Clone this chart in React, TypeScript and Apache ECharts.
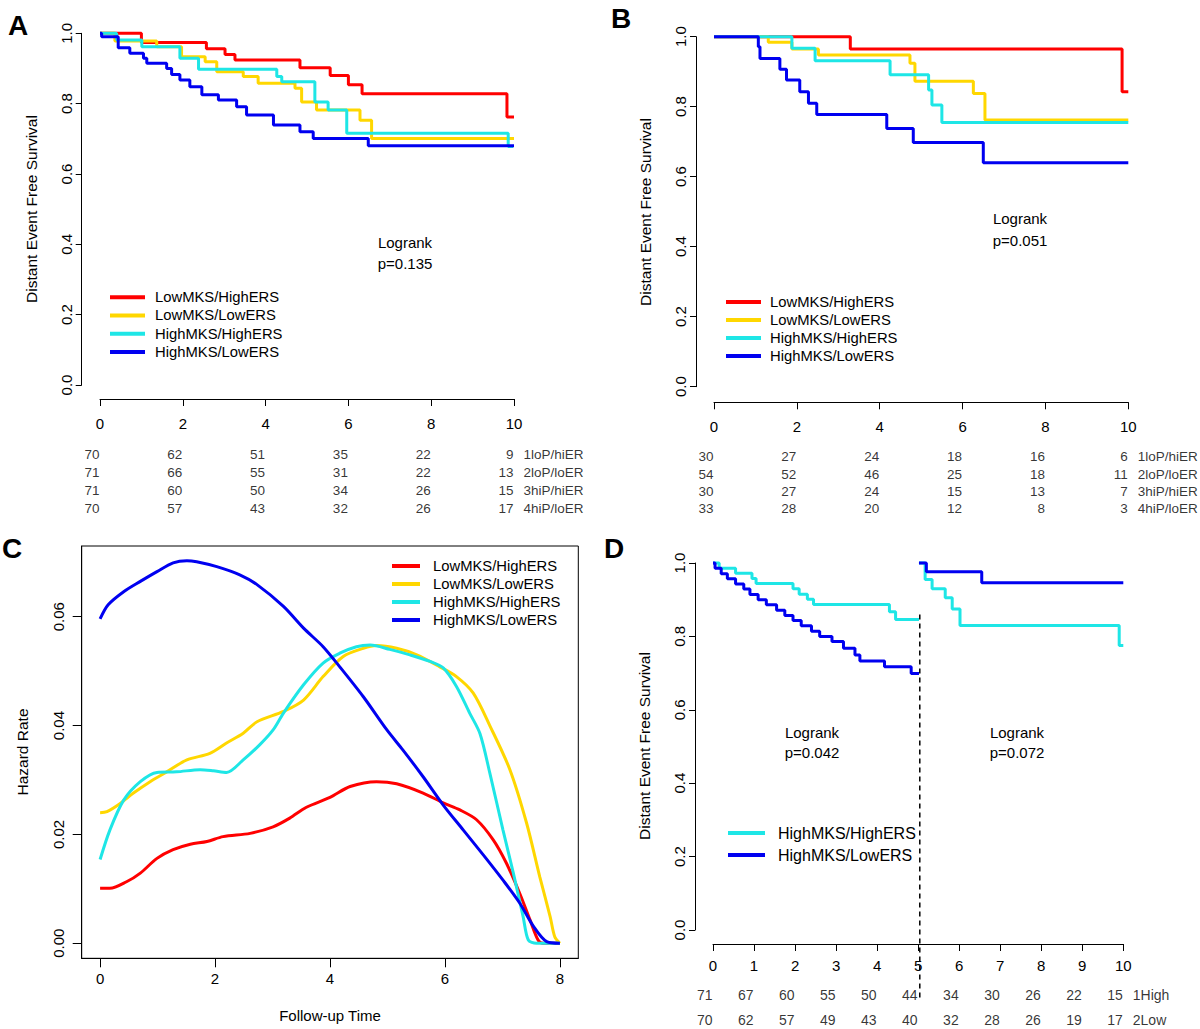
import React, { useEffect, useRef } from "react";
import * as echarts from "echarts";

const FONT = "'Liberation Sans', Arial, Helvetica, sans-serif";

const NAMES = ["LowMKS/HighERS", "LowMKS/LowERS", "HighMKS/HighERS", "HighMKS/LowERS"];
const COLORS = ["#FF0000", "#FFD700", "#1EE6E6", "#0000F0"];

// ---------- Panel A (Kaplan-Meier) ----------
const aRedT = [0, 1.0, 2.57, 3.02, 3.26, 4.83, 5.56, 6.0, 6.33, 9.83, 10.0];
const aRedS = [1, 0.974, 0.956, 0.94, 0.924, 0.902, 0.88, 0.854, 0.828, 0.762, 0.762];
const aGoldT = [0, 0.36, 1.37, 1.97, 2.54, 2.82, 3.46, 3.82, 4.71, 4.87, 5.23, 6.28, 6.56, 10.0];
const aGoldS = [1, 0.978, 0.962, 0.933, 0.919, 0.891, 0.877, 0.858, 0.844, 0.805, 0.782, 0.753, 0.701, 0.701];
const aCyanT = [0, 0.4, 1.01, 1.93, 2.38, 4.27, 4.39, 5.19, 5.51, 5.96, 9.86, 9.98];
const aCyanS = [1, 0.981, 0.962, 0.929, 0.898, 0.877, 0.862, 0.805, 0.782, 0.716, 0.678, 0.678];
const aBlueT = [0, 0.04, 0.44, 0.72, 1.05, 1.13, 1.61, 1.73, 1.93, 2.17, 2.46, 2.86, 3.3, 3.54, 4.19, 4.83, 5.15, 6.48, 10.0];
const aBlueS = [1, 0.99, 0.959, 0.943, 0.929, 0.915, 0.9, 0.883, 0.867, 0.848, 0.825, 0.81, 0.791, 0.768, 0.739, 0.72, 0.701, 0.68, 0.68];
const aTimes = [0, 2, 4, 6, 8, 10];
const aRisk = [
  [70, 62, 51, 35, 22, 9],
  [71, 66, 55, 31, 22, 13],
  [71, 60, 50, 34, 26, 15],
  [70, 57, 43, 32, 26, 17],
];
const abStrata = ["1loP/hiER", "2loP/loER", "3hiP/hiER", "4hiP/loER"];

// ---------- Panel B (Kaplan-Meier) ----------
const bRedT = [0, 3.29, 9.85, 10.0];
const bRedS = [1, 0.965, 0.843, 0.843];
const bGoldT = [0, 1.31, 1.88, 2.52, 4.73, 4.85, 6.26, 6.54, 10.0];
const bGoldS = [1, 0.984, 0.965, 0.948, 0.924, 0.873, 0.838, 0.762, 0.762];
const bCyanT = [0, 1.88, 2.44, 4.25, 5.18, 5.26, 5.5, 10.0];
const bCyanS = [1, 0.967, 0.931, 0.891, 0.848, 0.805, 0.755, 0.755];
const bBlueT = [0, 1.07, 1.11, 1.59, 1.75, 2.07, 2.28, 2.48, 4.17, 4.81, 6.5, 10.0];
const bBlueS = [1, 0.971, 0.938, 0.907, 0.876, 0.843, 0.81, 0.778, 0.738, 0.698, 0.64, 0.64];
const bTimes = [0, 2, 4, 6, 8, 10];
const bRisk = [
  [30, 27, 24, 18, 16, 6],
  [54, 52, 46, 25, 18, 11],
  [30, 27, 24, 15, 13, 7],
  [33, 28, 20, 12, 8, 3],
];

// ---------- Panel C (hazard rate) ----------
const cRedT = [0, 0.17, 0.46, 0.7, 0.99, 1.27, 1.57, 1.86, 2.14, 2.61, 3.01, 3.3, 3.59, 4.0, 4.35, 4.81, 5.16, 5.62, 5.97, 6.26, 6.55, 6.84, 7.07, 7.3, 7.48, 7.62, 7.71, 8.0];
const cRedV = [0.0101, 0.0101, 0.0113, 0.0129, 0.0156, 0.0172, 0.0182, 0.0187, 0.0196, 0.0202, 0.0214, 0.023, 0.025, 0.0268, 0.0288, 0.0297, 0.0293, 0.0276, 0.0258, 0.0245, 0.0227, 0.019, 0.0147, 0.0092, 0.0043, 0.0006, 0, 0];
const cGoldT = [0, 0.12, 0.35, 0.58, 0.87, 1.16, 1.51, 1.91, 2.2, 2.49, 2.73, 3.19, 3.54, 3.88, 4.23, 4.58, 4.81, 5.16, 5.51, 5.91, 6.2, 6.49, 6.78, 7.13, 7.42, 7.65, 7.83, 7.91, 8.0];
const cGoldV = [0.024, 0.0242, 0.0257, 0.0276, 0.0297, 0.0315, 0.0337, 0.0349, 0.0368, 0.0386, 0.0407, 0.0426, 0.0447, 0.049, 0.0527, 0.0542, 0.0547, 0.0542, 0.053, 0.0508, 0.049, 0.046, 0.04, 0.0319, 0.0221, 0.0122, 0.0049, 0.0012, 0];
const cCyanT = [0, 0.17, 0.41, 0.7, 0.99, 1.33, 1.74, 1.97, 2.2, 2.49, 2.78, 3.01, 3.19, 3.54, 3.88, 4.17, 4.46, 4.7, 5.04, 5.39, 5.74, 5.97, 6.2, 6.43, 6.61, 6.78, 7.01, 7.19, 7.36, 7.45, 7.59, 8.0];
const cCyanV = [0.0154, 0.0208, 0.0263, 0.0297, 0.0314, 0.0315, 0.0319, 0.0317, 0.0314, 0.0337, 0.0365, 0.0392, 0.0423, 0.0475, 0.0515, 0.0533, 0.0545, 0.0548, 0.054, 0.053, 0.0518, 0.0506, 0.0472, 0.0423, 0.0385, 0.0313, 0.0208, 0.0129, 0.0049, 0.0006, 0, 0];
const cBlueT = [0, 0.14, 0.41, 0.7, 0.99, 1.27, 1.51, 1.68, 2.03, 2.43, 2.73, 3.19, 3.54, 3.88, 4.17, 4.58, 4.99, 5.27, 5.62, 5.97, 6.32, 6.67, 7.01, 7.3, 7.54, 7.77, 8.0];
const cBlueV = [0.0596, 0.0622, 0.0646, 0.0665, 0.0683, 0.0699, 0.0703, 0.0701, 0.0692, 0.0677, 0.0659, 0.0619, 0.0579, 0.0545, 0.0508, 0.0453, 0.0392, 0.0355, 0.0306, 0.0254, 0.0208, 0.0162, 0.0116, 0.0074, 0.0031, 0.0003, 0];
const cXTicks = [0, 2, 4, 6, 8];
const cYTicks = [0, 0.02, 0.04, 0.06];

// ---------- Panel D (landmark Kaplan-Meier) ----------
const dCyanLT = [0, 0.15, 0.55, 0.95, 1.05, 1.95, 2.1, 2.3, 2.45, 4.3, 4.45, 5.02];
const dCyanLS = [1, 0.986, 0.972, 0.958, 0.944, 0.93, 0.915, 0.901, 0.887, 0.867, 0.846, 0.846];
const dBlueLT = [0, 0.05, 0.2, 0.35, 0.55, 0.75, 0.9, 1.1, 1.3, 1.55, 1.75, 1.95, 2.15, 2.4, 2.6, 2.9, 3.18, 3.46, 3.58, 4.18, 4.83, 5.02];
const dBlueLS = [1, 0.986, 0.971, 0.957, 0.943, 0.929, 0.914, 0.9, 0.886, 0.871, 0.857, 0.843, 0.829, 0.814, 0.8, 0.786, 0.768, 0.749, 0.733, 0.717, 0.699, 0.699];
const dCyanRT = [5.02, 5.17, 5.34, 5.66, 5.83, 6.02, 9.9, 10.0];
const dCyanRS = [1, 0.955, 0.93, 0.905, 0.875, 0.83, 0.775, 0.775];
const dBlueRT = [5.02, 5.2, 6.55, 10.0];
const dBlueRS = [1, 0.976, 0.946, 0.946];
const dLandmark = 5.04;
const dTimes = [0, 1, 2, 3, 4, 5, 6, 7, 8, 9, 10];
const dRisk = [
  [71, 67, 60, 55, 50, 44, 34, 30, 26, 22, 15],
  [70, 62, 57, 49, 43, 40, 32, 28, 26, 19, 17],
];
const dStrata = ["1High", "2Low"];
const dNames = ["HighMKS/HighERS", "HighMKS/LowERS"];

const zip = (t: number[], s: number[]) => t.map((x, i) => [x, s[i]]);

const kmLine = (name: string, color: string, data: number[][], axis: number) => ({
  type: "line",
  name,
  data,
  step: "end",
  xAxisIndex: axis,
  yAxisIndex: axis,
  symbol: "none",
  showSymbol: false,
  clip: false,
  silent: true,
  color,
  itemStyle: { color },
  lineStyle: { color, width: 3 },
});

const hazLine = (name: string, color: string, data: number[][]) => ({
  type: "line",
  name,
  data,
  xAxisIndex: 2,
  yAxisIndex: 2,
  symbol: "none",
  showSymbol: false,
  smooth: 0.3,
  clip: false,
  silent: true,
  color,
  itemStyle: { color },
  lineStyle: { color, width: 3 },
});

const tableSeries = (times: number[], risk: number[][], strata: string[], axis: number, fs: number) => [
  {
    type: "scatter",
    name: "risk" + axis,
    xAxisIndex: axis,
    yAxisIndex: axis,
    symbolSize: 1,
    silent: true,
    itemStyle: { color: "rgba(0,0,0,0)" },
    data: risk.flatMap((row, i) => row.map((n, j) => ({ name: String(n), value: [times[j], i] }))),
    label: { show: true, position: "left", distance: 0, formatter: "{b}", color: "#000", fontSize: fs, fontFamily: FONT },
  },
  {
    type: "scatter",
    name: "strata" + axis,
    xAxisIndex: axis,
    yAxisIndex: axis,
    symbolSize: 1,
    silent: true,
    itemStyle: { color: "rgba(0,0,0,0)" },
    data: strata.map((s, i) => ({ name: s, value: [times[times.length - 1], i] })),
    label: { show: true, position: "right", distance: 9, formatter: "{b}", color: "#000", fontSize: fs, fontFamily: FONT },
  },
];

const axisLineStyle = { show: true, onZero: false, lineStyle: { color: "#000", width: 1 } };

const kmX = (gridIndex: number, offset: number, interval: number, margin: number) => ({
  type: "value",
  gridIndex,
  min: 0,
  max: 10,
  interval,
  offset,
  axisLine: axisLineStyle,
  axisTick: { show: true, length: 7, lineStyle: { color: "#000" } },
  axisLabel: { margin, fontSize: 15, color: "#000", fontFamily: FONT, showMinLabel: true, showMaxLabel: true },
  splitLine: { show: false },
});
const kmY = (gridIndex: number, offset: number, margin: number) => ({
  type: "value",
  gridIndex,
  min: 0,
  max: 1,
  interval: 0.2,
  offset,
  axisLine: axisLineStyle,
  axisTick: { show: true, length: 6, lineStyle: { color: "#000" } },
  axisLabel: {
    rotate: 90,
    margin,
    fontSize: 15,
    color: "#000",
    fontFamily: FONT,
    showMinLabel: true,
    showMaxLabel: true,
    formatter: (v: number) => v.toFixed(1),
  },
  splitLine: { show: false },
});
const hiddenX = (gridIndex: number) => ({ type: "value", gridIndex, min: 0, max: 10, show: false });
const hiddenY = (gridIndex: number, rows: number) => ({ type: "value", gridIndex, min: 0, max: rows - 1, inverse: true, show: false });

const legendCfg = (data: string[], left: number, top: number, w: number, lh: number, fs: number, pad: number) => ({
  data,
  orient: "vertical",
  left,
  top,
  padding: 0,
  itemGap: 0,
  itemWidth: w,
  itemHeight: 4,
  icon: "rect",
  selectedMode: false,
  textStyle: { fontSize: fs, fontFamily: FONT, color: "#000", lineHeight: lh, padding: [0, 0, 0, pad] },
});

const txt = (text: string, x: number, y: number, fs: number, opts: any = {}) => ({
  type: "text",
  x,
  y,
  rotation: opts.rotation || 0,
  silent: true,
  style: {
    text,
    fontSize: fs,
    fontFamily: FONT,
    fontWeight: opts.bold ? "bold" : "normal",
    fill: "#000",
    align: "center",
    verticalAlign: "middle",
    textAlign: "center",
    textVerticalAlign: "middle",
  },
});

export default function App() {
  const ref = useRef<HTMLDivElement>(null);
  useEffect(() => {
    document.body.style.margin = "0";
    const chart = echarts.init(ref.current!, null, { renderer: "svg" });
    const option: any = {
      animation: false,
      backgroundColor: "#fff",
      grid: [
        { left: 100, top: 33.3, width: 414, height: 351.7, show: false },
        { left: 714, top: 36.7, width: 414.3, height: 350, show: false },
        { left: 81.7, top: 546, width: 496.6, height: 412.3, show: true, borderColor: "#000", borderWidth: 1 },
        { left: 713, top: 563, width: 410.3, height: 367, show: false },
        { left: 100, top: 454, width: 414, height: 54, show: false },
        { left: 714, top: 456.7, width: 414.3, height: 52, show: false },
        { left: 713, top: 995, width: 410.3, height: 25, show: false },
      ],
      xAxis: [
        kmX(0, 14, 2, 17),
        kmX(1, 15.6, 2, 17),
        {
          type: "value",
          gridIndex: 2,
          min: -0.32,
          max: 8.32,
          axisLine: axisLineStyle,
          axisTick: { show: true, length: 9, customValues: cXTicks, lineStyle: { color: "#000" } },
          axisLabel: { margin: 13, fontSize: 15, color: "#000", fontFamily: FONT, customValues: cXTicks },
          splitLine: { show: false },
        },
        kmX(3, 14, 1, 14),
        hiddenX(4),
        hiddenX(5),
        hiddenX(6),
      ],
      yAxis: [
        kmY(0, 18.3, 8),
        kmY(1, 18, 8),
        {
          type: "value",
          gridIndex: 2,
          min: -0.00276,
          max: 0.073,
          axisLine: axisLineStyle,
          axisTick: { show: true, length: 9, customValues: cYTicks, lineStyle: { color: "#000" } },
          axisLabel: {
            rotate: 90,
            margin: 16,
            fontSize: 15,
            color: "#000",
            fontFamily: FONT,
            customValues: cYTicks,
            formatter: (v: number) => v.toFixed(2),
          },
          splitLine: { show: false },
        },
        kmY(3, 18, 8),
        hiddenY(4, 4),
        hiddenY(5, 4),
        hiddenY(6, 2),
      ],
      legend: [
        legendCfg(NAMES, 110, 288, 35, 18.3, 14.8, 5),
        legendCfg(NAMES, 726, 293, 35, 18, 14.8, 4),
        legendCfg(NAMES, 392, 557, 28, 18, 14.8, 8),
        legendCfg(dNames, 728, 822, 37, 22, 16, 8),
      ],
      series: [
        kmLine(NAMES[0], COLORS[0], zip(aRedT, aRedS), 0),
        kmLine(NAMES[1], COLORS[1], zip(aGoldT, aGoldS), 0),
        kmLine(NAMES[2], COLORS[2], zip(aCyanT, aCyanS), 0),
        kmLine(NAMES[3], COLORS[3], zip(aBlueT, aBlueS), 0),
        kmLine(NAMES[0], COLORS[0], zip(bRedT, bRedS), 1),
        kmLine(NAMES[1], COLORS[1], zip(bGoldT, bGoldS), 1),
        kmLine(NAMES[2], COLORS[2], zip(bCyanT, bCyanS), 1),
        kmLine(NAMES[3], COLORS[3], zip(bBlueT, bBlueS), 1),
        hazLine(NAMES[0], COLORS[0], zip(cRedT, cRedV)),
        hazLine(NAMES[1], COLORS[1], zip(cGoldT, cGoldV)),
        hazLine(NAMES[2], COLORS[2], zip(cCyanT, cCyanV)),
        hazLine(NAMES[3], COLORS[3], zip(cBlueT, cBlueV)),
        kmLine(dNames[0], COLORS[2], zip(dCyanLT, dCyanLS), 3),
        kmLine(dNames[1], COLORS[3], zip(dBlueLT, dBlueLS), 3),
        kmLine(dNames[0], COLORS[2], zip(dCyanRT, dCyanRS), 3),
        kmLine(dNames[1], COLORS[3], zip(dBlueRT, dBlueRS), 3),
        ...tableSeries(aTimes, aRisk, abStrata, 4, 13.5),
        ...tableSeries(bTimes, bRisk, abStrata, 5, 13.5),
        ...tableSeries(dTimes, dRisk, dStrata, 6, 14),
      ],
    };
    chart.setOption(option);

    const lx = chart.convertToPixel({ xAxisIndex: 3 } as any, dLandmark) as number;
    const ly = chart.convertToPixel({ yAxisIndex: 3 } as any, 0.86) as number;

    chart.setOption({
      graphic: [
        txt("A", 18, 25, 28, { bold: true }),
        txt("B", 621, 18, 28, { bold: true }),
        txt("C", 12, 548, 28, { bold: true }),
        txt("D", 614, 548, 28, { bold: true }),
        txt("Distant Event Free Survival", 31, 209, 15.5, { rotation: Math.PI / 2 }),
        txt("Distant Event Free Survival", 645, 212, 15.5, { rotation: Math.PI / 2 }),
        txt("Hazard Rate", 22, 752, 15.5, { rotation: Math.PI / 2 }),
        txt("Distant Event Free Survival", 644, 746, 15.5, { rotation: Math.PI / 2 }),
        txt("Follow-up Time", 330, 1015, 15),
        txt("Logrank", 405, 242, 15),
        txt("p=0.135", 405, 263, 15),
        txt("Logrank", 1020, 218, 15),
        txt("p=0.051", 1020, 240, 15),
        txt("Logrank", 812, 732, 15),
        txt("p=0.042", 812, 752, 15),
        txt("Logrank", 1017, 732, 15),
        txt("p=0.072", 1017, 752, 15),
        {
          type: "line",
          silent: true,
          shape: { x1: lx, y1: ly, x2: lx, y2: 998 },
          style: { stroke: "#000", lineWidth: 1.5, lineDash: [5, 4] },
        },
      ],
    });
    return () => chart.dispose();
  }, []);
  return <div ref={ref} style={{ width: 1200, height: 1029 }} />;
}
